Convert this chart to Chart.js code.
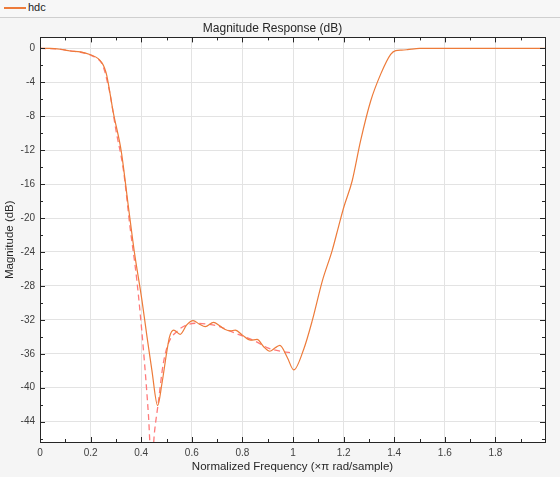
<!DOCTYPE html>
<html>
<head>
<meta charset="utf-8">
<script src="https://cdn.jsdelivr.net/npm/chart.js@4/dist/chart.umd.min.js"></script>
<style>
  html, body { margin: 0; padding: 0; background: #f5f5f5; }
  #wrap { position: relative; width: 560px; height: 477px; }
  #chart { position: absolute; left: 0; top: 0; }
  #legend {
    position: absolute; left: 0; top: 0; width: 560px; height: 17px;
    border-bottom: 1px solid #cfcfcf; background: #f7f7f7;
    font: 11px "Liberation Sans", Arial, sans-serif; color: #222;
  }
  #legend .swatch { position: absolute; left: 4px; top: 7px; width: 22px; height: 1.5px; background: #ed7b3a; }
  #legend .label { position: absolute; left: 28px; top: 1px; }
</style>
</head>
<body>
<div id="wrap">
  <canvas id="chart" width="560" height="477"></canvas>
  <div id="legend"><span class="swatch"></span><span class="label">hdc</span></div>
</div>
<script>
// Solid response (hdc)
const freqSolid = [0, 0.04, 0.08, 0.12, 0.16, 0.2, 0.23, 0.245, 0.255, 0.264, 0.29, 0.321, 0.35, 0.372,
  0.403, 0.423, 0.442, 0.465, 0.482, 0.502, 0.512, 0.528, 0.554, 0.58, 0.605, 0.63, 0.653, 0.686, 0.71,
  0.73, 0.752, 0.772, 0.8, 0.832, 0.858, 0.885, 0.908, 0.93, 0.948, 0.977, 1.003, 1.043, 1.076, 1.116,
  1.155, 1.18, 1.201, 1.234, 1.267, 1.307, 1.347, 1.386, 1.406, 1.43, 1.452, 1.5, 1.6, 1.7, 1.8, 1.9, 1.996];
const magSolid = [0, 0, -0.1, -0.3, -0.4, -0.75, -1.2, -1.7, -2.3, -3.2, -7.6, -12.1, -18.8, -23.8,
  -29.7, -34.0, -37.9, -42.1, -39.5, -35.6, -34.0, -33.2, -33.7, -32.6, -32.1, -32.5, -32.8, -32.3, -32.7,
  -33.1, -33.3, -33.2, -33.8, -34.4, -34.3, -35.2, -35.7, -35.3, -35.0, -36.4, -37.9, -35.4, -32.1, -27.4,
  -23.8, -21.0, -18.7, -15.6, -10.9, -6.2, -3.0, -0.7, -0.25, -0.2, -0.15, 0, 0, 0, 0, 0, 0];

// Dashed reference response
const freqDashed = [0, 0.08, 0.12, 0.16, 0.2, 0.23, 0.245, 0.255, 0.265, 0.277, 0.3, 0.33, 0.356, 0.383,
  0.409, 0.429, 0.441, 0.452, 0.467, 0.487, 0.507, 0.54, 0.58, 0.62, 0.66, 0.7, 0.75, 0.8, 0.85, 0.9, 0.95, 1.0];
const magDashed = [0, -0.1, -0.3, -0.45, -0.8, -1.25, -1.8, -2.6, -3.8, -5.4, -9.6, -14.4, -21.1, -27.4,
  -35.6, -43.4, -49.5, -45.4, -41.9, -37.2, -34.8, -33.4, -32.6, -32.4, -32.5, -32.7, -33.3, -33.9, -34.5, -35.3, -35.7, -35.9];

const xRange = [0, 1.996];
const yRange = [-46.4, 1.3];
const xStep = 0.2;
const yStep = 4;

const FONT = '"Liberation Sans", Arial, sans-serif';

function toPoints(xs, ys) {
  return xs.map((x, i) => ({ x: x, y: ys[i] }));
}

function fmt(v) {
  return String(+Number(v).toFixed(3));
}

// plot box, white axes area, and inward major/minor ticks like MATLAB
const framePlugin = {
  id: 'frame',
  beforeDraw(chart) {
    const { ctx, chartArea: a } = chart;
    ctx.save();
    ctx.fillStyle = '#f5f5f5';
    ctx.fillRect(0, 0, chart.width, chart.height);
    ctx.fillStyle = '#ffffff';
    ctx.fillRect(a.left, a.top, a.right - a.left, a.bottom - a.top);
    ctx.restore();
  },
  afterDraw(chart) {
    const { ctx, chartArea: a, scales } = chart;
    const xs = scales.x, ys = scales.y;
    ctx.save();
    ctx.strokeStyle = '#262626';
    ctx.lineWidth = 1;
    ctx.beginPath();

    const xt = xs.ticks.map(t => t.value);
    const xMinor = [];
    for (let i = 0; i < xt.length; i++) {
      const next = i + 1 < xt.length ? xt[i + 1] : xt[i] + xStep;
      const mid = (xt[i] + next) / 2;
      if (mid < xs.max) xMinor.push(mid);
    }
    xt.forEach(v => {
      const px = Math.round(xs.getPixelForValue(v)) + 0.5;
      ctx.moveTo(px, a.bottom); ctx.lineTo(px, a.bottom - 5);
      ctx.moveTo(px, a.top); ctx.lineTo(px, a.top + 5);
    });
    xMinor.forEach(v => {
      const px = Math.round(xs.getPixelForValue(v)) + 0.5;
      ctx.moveTo(px, a.bottom); ctx.lineTo(px, a.bottom - 3);
      ctx.moveTo(px, a.top); ctx.lineTo(px, a.top + 3);
    });

    const yt = ys.ticks.map(t => t.value);
    const yMinor = [];
    for (let i = 0; i < yt.length; i++) {
      const below = yt[i] - yStep / 2;
      if (below > ys.min) yMinor.push(below);
    }
    if (yt.length && yt[yt.length - 1] + yStep / 2 < ys.max) yMinor.push(yt[yt.length - 1] + yStep / 2);
    yt.forEach(v => {
      const py = Math.round(ys.getPixelForValue(v)) + 0.5;
      ctx.moveTo(a.left, py); ctx.lineTo(a.left + 5, py);
      ctx.moveTo(a.right, py); ctx.lineTo(a.right - 5, py);
    });
    yMinor.forEach(v => {
      const py = Math.round(ys.getPixelForValue(v)) + 0.5;
      ctx.moveTo(a.left, py); ctx.lineTo(a.left + 3, py);
      ctx.moveTo(a.right, py); ctx.lineTo(a.right - 3, py);
    });
    ctx.stroke();

    ctx.strokeRect(Math.round(a.left) + 0.5, Math.round(a.top) + 0.5,
      Math.round(a.right - a.left), Math.round(a.bottom - a.top));
    ctx.restore();
  }
};

new Chart(document.getElementById('chart'), {
  type: 'line',
  data: {
    datasets: [
      {
        label: 'hdc',
        data: toPoints(freqSolid, magSolid),
        borderColor: '#ed7b3a',
        borderWidth: 1.2,
        pointRadius: 0,
        cubicInterpolationMode: 'monotone',
        order: 0
      },
      {
        label: 'reference',
        data: toPoints(freqDashed, magDashed),
        borderColor: '#ff7a7a',
        borderWidth: 1.3,
        borderDash: [6, 4],
        pointRadius: 0,
        cubicInterpolationMode: 'monotone',
        order: 1
      }
    ]
  },
  options: {
    responsive: false,
    animation: false,
    layout: { padding: { top: 17, left: 0, right: 15, bottom: 0 } },
    plugins: {
      legend: { display: false },
      tooltip: { enabled: false },
      title: {
        display: true,
        text: 'Magnitude Response (dB)',
        color: '#262626',
        font: { family: FONT, size: 12, weight: 'normal' },
        padding: { top: 4, bottom: 2 }
      }
    },
    scales: {
      x: {
        type: 'linear',
        min: xRange[0],
        max: xRange[1],
        afterFit: s => { s.height = 35; },
        grid: { color: '#e3e3e3', drawTicks: false },
        border: { display: false },
        ticks: {
          stepSize: xStep,
          includeBounds: false,
          maxRotation: 0,
          autoSkip: false,
          padding: 5,
          color: '#404040',
          font: { family: FONT, size: 10 },
          callback: v => fmt(v)
        },
        title: {
          display: true,
          text: 'Normalized Frequency (×π rad/sample)',
          color: '#262626',
          font: { family: FONT, size: 11.5 },
          padding: { top: 0, bottom: 3 }
        }
      },
      y: {
        type: 'linear',
        min: yRange[0],
        max: yRange[1],
        afterFit: s => { s.width = 40; },
        grid: { color: '#e3e3e3', drawTicks: false },
        border: { display: false },
        ticks: {
          stepSize: yStep,
          includeBounds: false,
          autoSkip: false,
          padding: 5,
          color: '#404040',
          font: { family: FONT, size: 10 },
          callback: v => fmt(v)
        },
        title: {
          display: true,
          text: 'Magnitude (dB)',
          color: '#262626',
          font: { family: FONT, size: 11.5 },
          padding: { top: 3, bottom: 0 }
        }
      }
    }
  },
  plugins: [framePlugin]
});
</script>
</body>
</html>
